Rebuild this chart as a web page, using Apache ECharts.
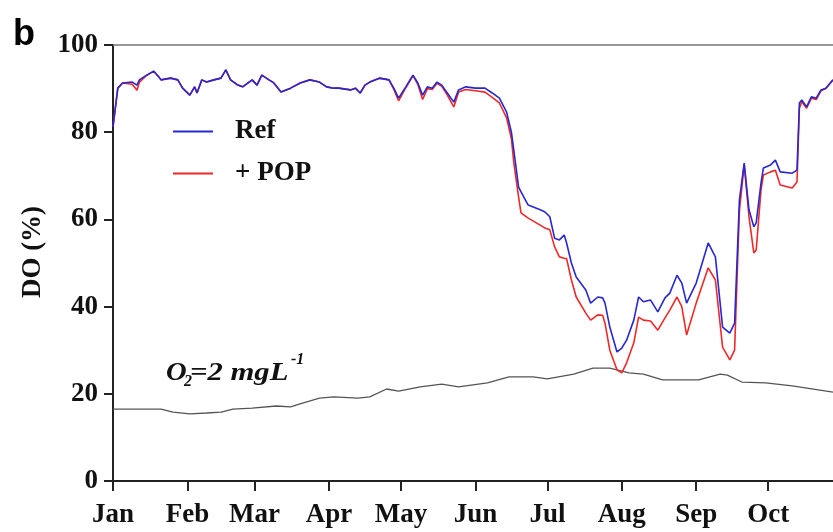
<!DOCTYPE html>
<html>
<head>
<meta charset="utf-8">
<script src="https://cdn.jsdelivr.net/npm/echarts@6/dist/echarts.min.js"></script>
<style>
  html, body { margin: 0; padding: 0; background: #fff; }
  #chart { width: 833px; height: 532px; }
</style>
</head>
<body>
<div id="chart"></div>
<script>
// Month ticks on a day-of-year axis
const monthNames = ['Jan', 'Feb', 'Mar', 'Apr', 'May', 'Jun', 'Jul', 'Aug', 'Sep', 'Oct', 'Nov', 'Dec'];
const monthStartDays = [0, 31, 59, 90, 120, 151, 181, 212, 243, 273, 304, 334];
const lastDayShown = 300;

// Dissolved oxygen saturation (%) by day of year, shared day grid for both runs
const dayOfYear = [
  0, 2, 4, 8, 10, 11, 14, 17, 19, 20, 24, 27, 29, 32, 34, 35, 37, 39, 42, 45,
  47, 49, 52, 54, 58, 60, 62, 65, 67, 70, 74, 78, 82, 86, 89, 92, 94, 99, 101, 103,
  105, 107, 111, 115, 117, 119, 122, 125, 127, 129, 131, 133, 135, 137, 139, 142, 144, 147, 151, 155,
  158, 161, 164, 166, 167, 169, 170, 173, 178, 180, 182, 184, 186, 188, 189, 191, 193, 197, 199, 202,
  204, 205, 207, 210, 212, 214, 217, 219, 221, 224, 227, 230, 232, 235, 237, 239, 243, 248, 251, 254,
  257, 259, 261, 263, 265, 267, 268, 270, 271, 274, 276, 278, 283, 285, 286, 287, 289, 291, 293, 295,
  297, 300
];
const refDO = [
  81.2, 90.1, 91.3, 91.5, 90.8, 92.0, 93.1, 94.0, 92.7, 92.0, 92.4, 92.0, 90.1, 88.5, 90.4, 89.0, 92.0, 91.5, 92.0, 92.4,
  94.3, 92.0, 90.8, 90.4, 92.0, 90.8, 93.1, 92.0, 91.3, 89.2, 90.1, 91.3, 92.0, 91.5, 90.4, 90.1, 90.1, 89.7, 90.1, 89.0,
  90.8, 91.5, 92.4, 92.0, 90.1, 87.8, 90.4, 93.1, 91.3, 88.5, 90.4, 90.1, 91.5, 90.8, 89.2, 86.9, 89.7, 90.4, 90.1, 90.1,
  89.0, 87.8, 84.6, 80.0, 75.9, 67.4, 66.3, 63.3, 62.2, 61.7, 60.6, 55.7, 55.3, 56.4, 54.6, 50.0, 46.8, 43.8, 40.8, 42.2,
  42.0, 40.8, 35.3, 29.6, 30.5, 32.3, 36.9, 42.2, 41.1, 41.5, 38.8, 42.0, 43.1, 47.2, 45.4, 40.8, 45.4, 54.6, 51.4, 35.3,
  33.9, 36.2, 64.4, 72.9, 62.2, 58.3, 59.2, 68.3, 71.8, 72.5, 73.6, 70.9, 70.6, 71.3, 86.7, 87.4, 85.8, 88.1, 87.8, 89.7,
  90.1, 92.0
];
const popDO = [
  81.2, 90.1, 91.3, 91.0, 89.6, 91.5, 93.0, 94.0, 92.7, 92.0, 92.4, 92.0, 90.1, 88.5, 90.4, 89.0, 92.0, 91.5, 92.0, 92.4,
  94.3, 92.0, 90.8, 90.4, 92.0, 90.8, 93.1, 92.0, 91.3, 89.2, 90.1, 91.3, 92.0, 91.5, 90.4, 90.1, 90.1, 89.7, 90.1, 89.0,
  90.8, 91.5, 92.4, 92.0, 89.8, 87.2, 90.2, 93.0, 91.0, 87.5, 90.0, 89.8, 91.2, 90.5, 88.8, 85.8, 89.2, 89.8, 89.5, 89.2,
  88.0, 86.7, 83.3, 78.5, 73.0, 65.1, 61.5, 60.3, 58.7, 58.0, 57.6, 53.7, 51.4, 51.1, 51.0, 46.1, 42.2, 38.5, 36.9, 38.1,
  38.0, 36.2, 30.0, 25.5, 24.8, 27.1, 31.7, 37.6, 36.9, 36.7, 34.6, 37.4, 39.2, 42.2, 40.0, 33.5, 40.8, 48.9, 46.1, 30.7,
  27.8, 30.0, 62.0, 72.5, 60.6, 52.3, 53.0, 66.7, 70.2, 70.9, 71.3, 67.9, 67.2, 68.6, 85.5, 87.0, 85.5, 87.8, 87.5, 89.5,
  90.0, 92.0
];

// Saturation (%) equivalent to O2 = 2 mg/L
const o2Days = [
  0, 20, 25, 32, 39, 45, 50, 58, 68, 74, 78, 86, 92, 102, 107, 114, 119, 128, 137, 144,
  156, 165, 175, 181, 192, 200, 207, 215, 221, 229, 244, 253, 256, 262, 272, 283, 300
];
const o2Threshold = [
  16.5, 16.5, 15.8, 15.4, 15.6, 15.8, 16.5, 16.7, 17.2, 17.0, 17.7, 19.0, 19.3, 19.0, 19.3, 21.1, 20.6, 21.6, 22.2, 21.6,
  22.5, 23.9, 23.9, 23.4, 24.5, 25.9, 25.9, 24.8, 24.5, 23.2, 23.2, 24.5, 24.3, 22.7, 22.5, 21.8, 20.4
];

const yTicks = [0, 20, 40, 60, 80, 100];

const zip = (xs, ys) => xs.map((x, i) => [x, ys[i]]);
const serifBold = '"Liberation Serif", "Times New Roman", serif';
const labelFont = 'italic bold 26px "Liberation Serif", "Times New Roman", serif';
const labelFontSmall = 'italic bold 16px "Liberation Serif", "Times New Roman", serif';

const chart = echarts.init(document.getElementById('chart'), null, { renderer: 'canvas' });

chart.setOption({
  animation: false,
  backgroundColor: '#fff',
  grid: { left: 113, top: 45, bottom: 51, right: 0, containLabel: false },
  legend: {
    orient: 'vertical',
    left: 173,
    top: 118,
    padding: 0,
    itemGap: 15,
    itemWidth: 40,
    itemHeight: 2,
    icon: 'rect',
    data: ['Ref', '+ POP'],
    textStyle: {
      fontFamily: serifBold, fontWeight: 'bold', fontSize: 27, color: '#111',
      lineHeight: 26, padding: [0, 0, 0, 17]
    }
  },
  xAxis: [
    {
      type: 'value', min: 0, max: lastDayShown, position: 'bottom',
      axisLine: { show: true, onZero: false, lineStyle: { color: '#222', width: 2 } },
      axisTick: { show: true, length: 10, customValues: monthStartDays.filter(d => d <= lastDayShown), lineStyle: { color: '#222', width: 2 } },
      axisLabel: {
        customValues: monthStartDays.filter(d => d <= lastDayShown),
        formatter: v => monthNames[monthStartDays.indexOf(v)] || '',
        margin: 21,
        fontFamily: serifBold, fontWeight: 'bold', fontSize: 27, color: '#111'
      },
      splitLine: { show: false }
    },
    {
      type: 'value', min: 0, max: lastDayShown, position: 'top',
      axisLine: { show: true, onZero: false, lineStyle: { color: '#777', width: 1.5 } },
      axisTick: { show: false }, axisLabel: { show: false }, splitLine: { show: false }
    }
  ],
  yAxis: {
    type: 'value', min: yTicks[0], max: yTicks[yTicks.length - 1], interval: 20,
    name: 'DO (%)', nameLocation: 'middle', nameGap: 63, nameRotate: 90,
    nameTextStyle: { fontFamily: serifBold, fontWeight: 'bold', fontSize: 27, color: '#111', padding: [0, 0, 0, 22] },
    axisLine: { show: true, lineStyle: { color: '#222', width: 2 } },
    axisTick: { show: true, length: 9, lineStyle: { color: '#222', width: 2 } },
    axisLabel: { margin: 15, fontFamily: serifBold, fontWeight: 'bold', fontSize: 27, color: '#111' },
    splitLine: { show: false }
  },
  series: [
    {
      name: 'O2 threshold', type: 'line', data: zip(o2Days, o2Threshold),
      showSymbol: false, lineStyle: { color: '#555', width: 1.3 }, itemStyle: { color: '#555' }, z: 1
    },
    {
      name: '+ POP', type: 'line', data: zip(dayOfYear, popDO),
      showSymbol: false, lineStyle: { color: '#f02828', width: 1.6 }, itemStyle: { color: '#f02828' }, z: 2
    },
    {
      name: 'Ref', type: 'line', data: zip(dayOfYear, refDO),
      showSymbol: false, lineStyle: { color: '#2828d0', width: 1.6 }, itemStyle: { color: '#2828d0' }, z: 3
    }
  ],
  graphic: [
    {
      type: 'text', x: 13, y: 17,
      style: { text: 'b', font: 'bold 36px "Liberation Sans", Arial, sans-serif', fill: '#000', verticalAlign: 'top' }
    },
    { type: 'text', x: 166, y: 373.5, scaleX: 1.1, style: { text: 'O', font: labelFont, fill: '#111', verticalAlign: 'middle' } },
    { type: 'text', x: 184, y: 381.5, style: { text: '2', font: labelFontSmall, fill: '#111', verticalAlign: 'middle' } },
    { type: 'text', x: 190, y: 373.5, scaleX: 1.18, style: { text: '=2 mgL', font: labelFont, fill: '#111', verticalAlign: 'middle' } },
    { type: 'text', x: 291, y: 360, style: { text: '-1', font: labelFontSmall, fill: '#111', verticalAlign: 'middle' } }
  ]
});
</script>
</body>
</html>
